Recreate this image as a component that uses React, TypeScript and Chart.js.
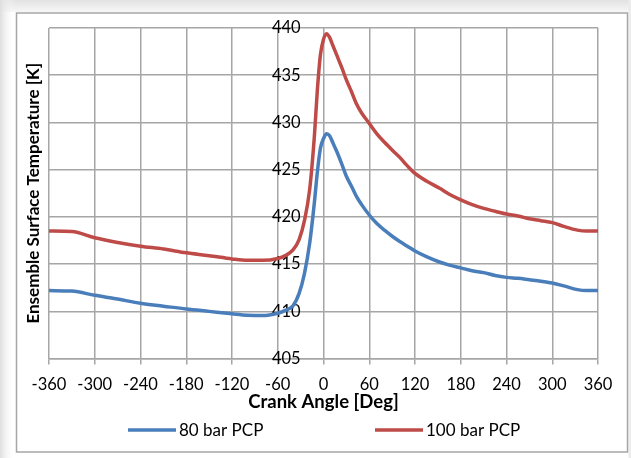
import React, { useEffect, useRef } from 'react';
import { Chart, registerables } from 'chart.js';

Chart.register(...registerables);

// ---- data ----
const crankAngles = [
  -360, -330, -300, -270, -240, -210, -180, -150, -120, -100, -80, -60, -50, -40, -32, -25, -18, -12, -8, -4,
  0, 4, 8, 12, 17, 24, 30, 37, 43, 50, 60, 70, 80, 91, 100, 110, 120, 135, 153, 165, 180, 195, 210, 225, 240,
  255, 270, 285, 300, 315, 333, 345, 360,
];
const pcp80 = [
  412.2, 412.15, 411.7, 411.3, 410.85, 410.55, 410.25, 410.0, 409.75, 409.6, 409.55, 409.8, 410.1, 410.6, 411.9,
  414.0, 417.3, 421.5, 424.8, 427.3, 428.3, 428.8, 428.6, 427.9, 427.0, 425.6, 424.3, 423.2, 422.2, 421.3, 420.2,
  419.3, 418.6, 417.9, 417.4, 416.9, 416.4, 415.8, 415.2, 414.9, 414.6, 414.3, 414.1, 413.8, 413.6, 413.5, 413.35,
  413.2, 413.0, 412.7, 412.3, 412.2, 412.2,
];
const pcp100 = [
  418.5, 418.45, 417.8, 417.3, 416.9, 416.6, 416.2, 415.9, 415.55, 415.4, 415.4, 415.6, 415.9, 416.5, 417.6,
  419.6, 423.0, 428.5, 433.5, 437.2, 438.8, 439.4, 439.0, 438.2, 437.2, 435.8, 434.5, 433.2, 432.0, 431.0, 429.9,
  428.8, 427.9, 427.0, 426.3, 425.4, 424.6, 423.8, 423.0, 422.4, 421.8, 421.3, 420.9, 420.6, 420.3, 420.1, 419.8,
  419.6, 419.4, 419.0, 418.6, 418.5, 418.5,
];
const seriesLabels = ['80 bar PCP', '100 bar PCP'];
const seriesColors = ['#4a7ebb', '#be4b48'];
const xTitle = 'Crank Angle [Deg]';
const yTitle = 'Ensemble Surface Temperature [K]';
const xRange = [-360, 360];
const xStep = 60;
const yRange = [405, 440];
const yStep = 5;

// ---- styling ----
const FONT = 'Lato, "Open Sans", sans-serif';
const GRID = '#a6a6a6';
const legendStarts = [128, 375];
const yLabelAnchor = -30; // crank angle where the value labels sit (just left of 0)

const framePlugin = {
  id: 'excelFrame',
  beforeDraw(chart: any) {
    const { ctx, width, height } = chart;
    ctx.save();
    ctx.fillStyle = '#ffffff';
    ctx.fillRect(0, 0, width, height);
    let g = ctx.createLinearGradient(0, 0, 0, 12);
    g.addColorStop(0, '#e2e2e2');
    g.addColorStop(1, '#f7f7f7');
    ctx.fillStyle = g;
    ctx.fillRect(0, 0, width, 12);
    g = ctx.createLinearGradient(0, 0, 15, 0);
    g.addColorStop(0, '#dedede');
    g.addColorStop(1, 'rgba(255,255,255,0)');
    ctx.fillStyle = g;
    ctx.fillRect(0, 0, 15, height);
    ctx.fillStyle = '#ececec';
    ctx.fillRect(628.5, 0, 3, height);
    ctx.strokeStyle = '#a6a6a6';
    ctx.lineWidth = 1.5;
    ctx.strokeRect(16.5, 13, 611, 439);
    ctx.restore();
  },
};

const legendPlugin = {
  id: 'excelLegend',
  afterDraw(chart: any) {
    const { ctx } = chart;
    ctx.save();
    const y = 430;
    chart.data.datasets.forEach((ds: any, i: number) => {
      const x0 = legendStarts[i];
      ctx.strokeStyle = ds.borderColor;
      ctx.lineWidth = 3.5;
      ctx.beginPath();
      ctx.moveTo(x0, y);
      ctx.lineTo(x0 + 48, y);
      ctx.stroke();
      ctx.fillStyle = '#000';
      ctx.font = `17px ${FONT}`;
      ctx.textAlign = 'left';
      ctx.textBaseline = 'middle';
      ctx.fillText(ds.label, x0 + 51, y + 1);
    });
    ctx.restore();
  },
};

export default function App() {
  const ref = useRef<HTMLCanvasElement | null>(null);

  useEffect(() => {
    if (!ref.current) return;
    const series = [pcp80, pcp100];
    const chart = new Chart(ref.current, {
      type: 'line',
      data: {
        datasets: series.map((vals, i) => ({
          label: seriesLabels[i],
          data: crankAngles.map((a, j) => ({ x: a, y: vals[j] })),
          borderColor: seriesColors[i],
          backgroundColor: seriesColors[i],
          borderWidth: 3.5,
          pointRadius: 0,
          cubicInterpolationMode: 'monotone' as const,
          xAxisID: 'x',
          yAxisID: 'y',
        })),
      },
      options: {
        animation: false,
        responsive: false,
        maintainAspectRatio: false,
        layout: { padding: { left: 18, right: 33, top: 28, bottom: 32.4 } },
        plugins: { legend: { display: false }, tooltip: { enabled: false } },
        scales: {
          x: {
            type: 'linear',
            position: 'bottom',
            min: xRange[0],
            max: xRange[1],
            ticks: {
              stepSize: xStep,
              color: '#000',
              font: { family: FONT, size: 16.5 },
              padding: 10,
              maxRotation: 0,
              autoSkip: false,
            },
            grid: { color: GRID, lineWidth: 1.5, tickLength: 6, drawTicks: true },
            border: { color: GRID, width: 1.5 },
            title: {
              display: true,
              text: xTitle,
              color: '#000',
              font: { family: FONT, size: 18.5, weight: 'bold' },
              padding: { top: -13, bottom: 12 },
            },
          },
          y: {
            type: 'linear',
            position: { x: yLabelAnchor } as any,
            min: yRange[0],
            max: yRange[1],
            ticks: {
              stepSize: yStep,
              color: '#000',
              font: { family: FONT, size: 16.5 },
            },
            grid: { color: GRID, lineWidth: 1.5, drawTicks: false },
            border: { display: false },
          },
          yTitle: {
            type: 'linear',
            axis: 'y',
            position: 'left',
            min: 0,
            max: 1,
            display: true,
            ticks: { display: false },
            grid: { display: false, drawTicks: false },
            border: { display: false },
            title: {
              display: true,
              text: yTitle,
              color: '#000',
              font: { family: FONT, size: 17, weight: 'bold' },
              padding: { top: 5.8, bottom: 4.8 },
            },
          },
        } as any,
      },
      plugins: [framePlugin, legendPlugin],
    });
    return () => chart.destroy();
  }, []);

  return (
    <div style={{ position: 'fixed', left: 0, top: 0, width: 631, height: 458 }}>
      <canvas ref={ref} width={631} height={458} style={{ width: 631, height: 458, display: 'block' }} />
    </div>
  );
}
